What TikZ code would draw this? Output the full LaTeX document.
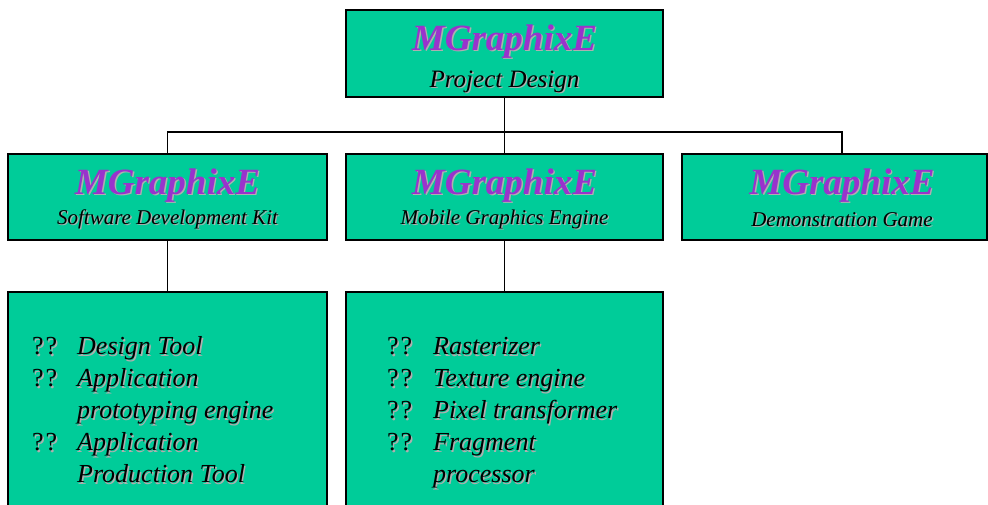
\documentclass[tikz,border=0pt]{standalone}
\usepackage{fontspec}
\setmainfont{Liberation Serif}
\usepackage{xcolor}
\usetikzlibrary{positioning}

\definecolor{mgreen}{RGB}{0,204,153}
\definecolor{mpurple}{RGB}{153,51,204}
\definecolor{mshadow}{RGB}{175,175,175}

% text with a soft grey drop shadow
\newcommand{\shad}[2][black]{\leavevmode\rlap{\textcolor{mshadow}{\hspace{1.4pt}\raisebox{-1.4pt}{#2}}}\textcolor{#1}{#2}}
\newcommand{\qq}{\shad{?\kern2pt?}}

\tikzset{
  block/.style={draw=black, line width=1.3pt, fill=mgreen, inner sep=0pt},
  title/.style={anchor=base, inner sep=0pt, font=\fontsize{37}{40}\selectfont\bfseries\itshape},
  subtitle/.style={anchor=base, inner sep=0pt, font=\fontsize{21}{24}\selectfont\itshape},
  items/.style={anchor=north west, inner sep=0pt, align=left, font=\fontsize{26}{32}\selectfont},
  wire/.style={draw=black, line width=1.4pt}
}

\begin{document}
\begin{tikzpicture}[x=1pt,y=-1pt]
 \clip (0,0) rectangle (988,504);

 % boxes
 \node[block, minimum width=317pt, minimum height=87pt] (design) at (504.5,53.5) {};
 \node[block, minimum width=319pt, minimum height=86pt] (sdk) at (167.5,197) {};
 \node[block, minimum width=317pt, minimum height=86pt] (mge) at (504.5,197) {};
 \node[block, minimum width=305pt, minimum height=86pt] (game) at (834.5,197) {};
 \node[block, minimum width=319pt, minimum height=223pt] (sdklist) at (167.5,403.5) {};
 \node[block, minimum width=317pt, minimum height=223pt] (mgelist) at (504.5,403.5) {};

 % titles
 \node[title] (designtitle) at (504.5,50) {\shad[mpurple]{MGraphixE}};
 \node[subtitle, font=\fontsize{25}{28}\selectfont\itshape] (designsub) at (504.5,87) {\shad{Project Design}};
 \node[title] (sdktitle) at (167.5,194) {\shad[mpurple]{MGraphixE}};
 \node[subtitle] (sdksub) at (167.5,224) {\shad{Software Development Kit}};
 \node[title] (mgetitle) at (504.5,194) {\shad[mpurple]{MGraphixE}};
 \node[subtitle] (mgesub) at (504.5,224) {\shad{Mobile Graphics Engine}};
 \node[title] (gametitle) at (842,194) {\shad[mpurple]{MGraphixE}};
 \node[subtitle] (gamesub) at (842,226) {\shad{Demonstration Game}};

 % item lists
 \node[items] (sdkitems) at (32,332) {%
  \begin{tabular}{@{}p{45pt}@{}l@{}}
   \qq & \shad{\itshape Design Tool}\\
   \qq & \shad{\itshape Application}\\
       & \shad{\itshape prototyping engine}\\
   \qq & \shad{\itshape Application}\\
       & \shad{\itshape Production Tool}
  \end{tabular}};
 \node[items] (mgeitems) at (387,332) {%
  \begin{tabular}{@{}p{46pt}@{}l@{}}
   \qq & \shad{\itshape Rasterizer}\\
   \qq & \shad{\itshape Texture engine}\\
   \qq & \shad{\itshape Pixel transformer}\\
   \qq & \shad{\itshape Fragment}\\
       & \shad{\itshape processor}
  \end{tabular}};

 % connectors
 \coordinate (bus) at (0,132);
 \draw[wire] (design.south) -- (design.south |- bus);
 \draw[wire] (sdk.north) |- (gametitle |- bus) -- (gametitle |- game.north);
 \draw[wire] (mge.north) -- (mge.north |- bus);
 \draw[wire] (sdk.south) -- (sdklist.north);
 \draw[wire] (mge.south) -- (mgelist.north);
\end{tikzpicture}
\end{document}
